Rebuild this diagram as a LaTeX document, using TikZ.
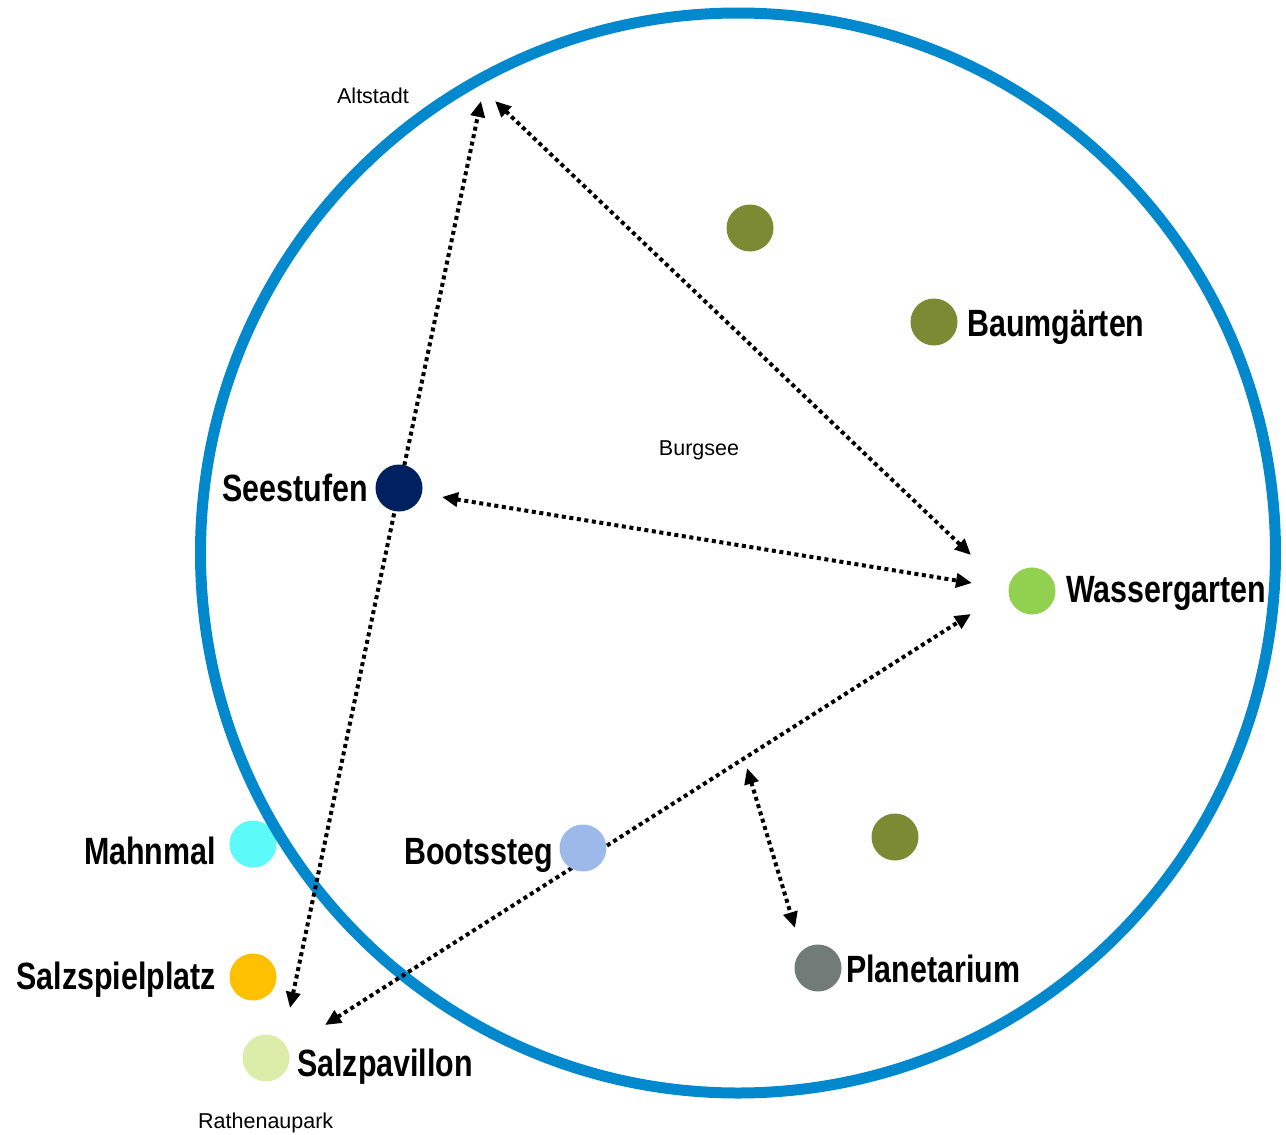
\documentclass[tikz,border=0pt]{standalone}
\usepackage{fontspec}
\setmainfont{Liberation Sans}
\newfontfamily\bnarrow{Liberation Sans}[FakeStretch=0.80]
\usetikzlibrary{arrows.meta,shapes.geometric}
\definecolor{ringblue}{HTML}{0288CC}
\definecolor{olivec}{HTML}{7B8A33}
\definecolor{navyc}{HTML}{002060}
\definecolor{greenc}{HTML}{92D050}
\definecolor{cyanc}{HTML}{5CFBF9}
\definecolor{lblue}{HTML}{9DB9EA}
\definecolor{orangec}{HTML}{FFC000}
\definecolor{greyc}{HTML}{717B78}
\definecolor{lgreen}{HTML}{DCEDAA}
\tikzset{
  dot/.style={circle,inner sep=0pt,minimum size=47pt,draw=none},
  biglabel/.style={inner sep=0pt,font=\bnarrow\bfseries\fontsize{38}{44}\selectfont},
  smalllabel/.style={inner sep=0pt,font=\fontsize{21.5}{26}\selectfont},
  link/.style={line width=4pt,dash pattern=on 4pt off 3.6pt,
    {Triangle[length=16pt,width=14pt]}-{Triangle[length=16pt,width=14pt]}},
}
\begin{document}
\begin{tikzpicture}[x=1pt,y=-1pt]
\useasboundingbox (0,0) rectangle (1286,1135);
% dot beneath the ring
\node[dot,fill=cyanc] (mahnmal) at (253,844) {};
% ring
\node[draw=ringblue,line width=11pt,ellipse,inner sep=0pt,minimum width=1075pt,minimum height=1080pt] (ring) at (738,553) {};
% arrow end points
\coordinate (a1s) at (290,1008);
\coordinate (a1e) at (481,101);
\coordinate (a2s) at (495,101);
\coordinate (a2e) at (971,555);
\coordinate (a3s) at (442,497);
\coordinate (a3e) at (972,583);
\coordinate (a4s) at (325,1025);
\coordinate (a4e) at (971,614);
\coordinate (a5s) at (747,768);
\coordinate (a5e) at (795,928);
\draw[link] (a1s) -- (a1e);
\draw[link] (a2s) -- (a2e);
\draw[link] (a3s) -- (a3e);
\draw[link] (a4s) -- (a4e);
\draw[link] (a5s) -- (a5e);
% dots
\node[dot,fill=olivec] (olive1) at (750,228) {};
\node[dot,fill=olivec] (baum) at (934,322) {};
\node[dot,fill=navyc] (see) at (399,488) {};
\node[dot,fill=greenc] (wasser) at (1032,591) {};
\node[dot,fill=lblue] (boot) at (583,848) {};
\node[dot,fill=olivec] (olive2) at (895,837) {};
\node[dot,fill=orangec] (salzsp) at (253,977) {};
\node[dot,fill=greyc] (planet) at (818,968) {};
\node[dot,fill=lgreen] (salzpav) at (266,1058) {};
% labels
\node[biglabel,anchor=base west] (lbaum) at (967,336) {Baumgärten};
\node[biglabel,anchor=base east] (lsee) at (368,501) {Seestufen};
\node[biglabel,anchor=base west] (lwasser) at (1066,602) {Wassergarten};
\node[biglabel,anchor=base east] (lmahn) at (216,864) {Mahnmal};
\node[biglabel,anchor=base east] (lboot) at (553,864) {Bootssteg};
\node[biglabel,anchor=base east] (lsalzsp) at (216,989) {Salzspielplatz};
\node[biglabel,anchor=base west] (lplanet) at (846,982) {Planetarium};
\node[biglabel,anchor=base west] (lsalzpav) at (297,1076) {Salzpavillon};
\node[smalllabel,anchor=base] (alt) at (373,103) {Altstadt};
\node[smalllabel,anchor=base] (burg) at (699,455) {Burgsee};
\node[smalllabel,anchor=base west] (rath) at (198,1128) {Rathenaupark};
\end{tikzpicture}
\end{document}
